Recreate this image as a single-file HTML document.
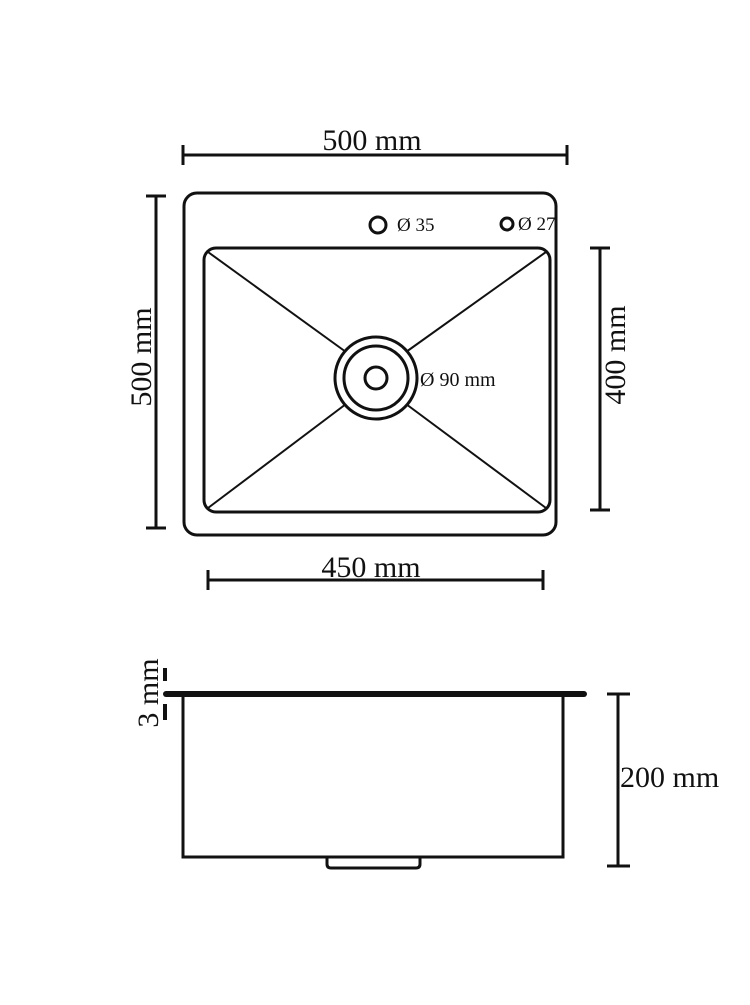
<!DOCTYPE html>
<html><head><style>html,body{margin:0;padding:0;background:#fff}</style></head>
<body>
<svg width="750" height="1000" viewBox="0 0 750 1000" xmlns="http://www.w3.org/2000/svg" font-family="Liberation Serif, serif" fill="none" stroke="#111">
<line x1="183" y1="155" x2="567" y2="155" stroke-width="3"/>
<line x1="183" y1="145" x2="183" y2="165" stroke-width="3"/>
<line x1="567" y1="145" x2="567" y2="165" stroke-width="3"/>
<text x="372" y="150" font-size="30" text-anchor="middle" fill="#111" stroke="none">500 mm</text>
<rect x="184" y="193" width="372" height="342" rx="13" stroke-width="3"/>
<rect x="204" y="248" width="346" height="264" rx="12" stroke-width="3"/>
<line x1="208" y1="252" x2="346" y2="352" stroke-width="2"/>
<line x1="546" y1="252" x2="406" y2="352" stroke-width="2"/>
<line x1="208" y1="508" x2="346" y2="404" stroke-width="2"/>
<line x1="546" y1="508" x2="406" y2="404" stroke-width="2"/>
<circle cx="376" cy="378" r="41" stroke-width="3" fill="#fff"/>
<circle cx="376" cy="378" r="32" stroke-width="3"/>
<circle cx="376" cy="378" r="11" stroke-width="3"/>
<text x="420" y="386" font-size="20" fill="#111" stroke="none">Ø 90 mm</text>
<circle cx="378" cy="225" r="8" stroke-width="3"/>
<text x="397" y="231" font-size="19" fill="#111" stroke="none">Ø 35</text>
<circle cx="507" cy="224" r="6" stroke-width="3"/>
<text x="518" y="230" font-size="19" fill="#111" stroke="none">Ø 27</text>
<line x1="156" y1="196" x2="156" y2="528" stroke-width="3"/>
<line x1="146" y1="196" x2="166" y2="196" stroke-width="3"/>
<line x1="146" y1="528" x2="166" y2="528" stroke-width="3"/>
<text transform="translate(151,357) rotate(-90)" font-size="30" text-anchor="middle" fill="#111" stroke="none">500 mm</text>
<line x1="600" y1="248" x2="600" y2="510" stroke-width="3"/>
<line x1="590" y1="248" x2="610" y2="248" stroke-width="3"/>
<line x1="590" y1="510" x2="610" y2="510" stroke-width="3"/>
<text transform="translate(625,355) rotate(-90)" font-size="30" text-anchor="middle" fill="#111" stroke="none">400 mm</text>
<line x1="208" y1="580" x2="543" y2="580" stroke-width="3"/>
<line x1="208" y1="570" x2="208" y2="590" stroke-width="3"/>
<line x1="543" y1="570" x2="543" y2="590" stroke-width="3"/>
<text x="371" y="577" font-size="30" text-anchor="middle" fill="#111" stroke="none">450 mm</text>
<path d="M183 694 V857 H563 V694" stroke-width="3"/>
<path d="M327 857 V864 Q327 868 331 868 H416 Q420 868 420 864 V857" stroke-width="3"/>
<line x1="166" y1="694" x2="584" y2="694" stroke-width="6" stroke-linecap="round"/>
<line x1="165" y1="668" x2="165" y2="681" stroke-width="4"/>
<line x1="165" y1="704" x2="165" y2="720" stroke-width="4"/>
<text transform="translate(158,693) rotate(-90)" font-size="30" text-anchor="middle" fill="#111" stroke="none">3 mm</text>
<line x1="618" y1="694" x2="618" y2="866" stroke-width="3"/>
<line x1="607" y1="694" x2="630" y2="694" stroke-width="3"/>
<line x1="607" y1="866" x2="630" y2="866" stroke-width="3"/>
<text x="620" y="787" font-size="30" fill="#111" stroke="none">200 mm</text>
</svg>
</body></html>
